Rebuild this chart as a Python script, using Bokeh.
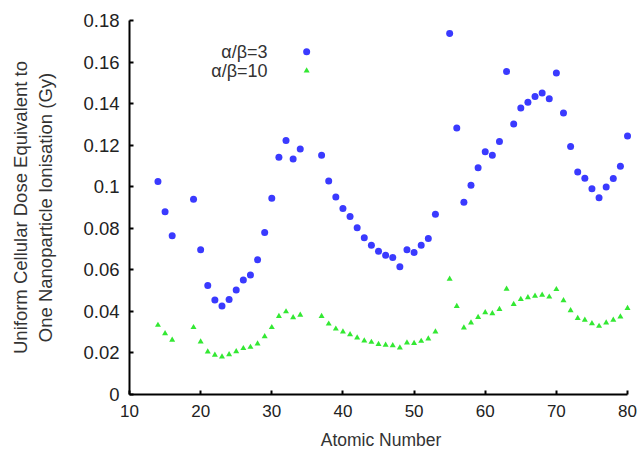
from bokeh.plotting import figure
from bokeh.models import Range1d, FixedTicker, CustomJSTickFormatter, Label
from bokeh.embed import file_html
from bokeh.resources import INLINE

# Atomic numbers
z_vals = [14, 15, 16, 19, 20, 21, 22, 23, 24, 25, 26, 27, 28, 29, 30, 31, 32, 33, 34,
          37, 38, 39, 40, 41, 42, 43, 44, 45, 46, 47, 48, 49, 50, 51, 52, 53,
          55, 56, 57, 58, 59, 60, 61, 62, 63, 64, 65, 66, 67, 68, 69, 70,
          71, 72, 73, 74, 75, 76, 77, 78, 79, 80]

# alpha/beta = 3
dose_ab3 = [0.1025, 0.0880, 0.0764, 0.0940, 0.0697, 0.0524, 0.0455, 0.0426, 0.0457, 0.0503,
            0.0551, 0.0575, 0.0649, 0.0780, 0.0945, 0.1142, 0.1223, 0.1134, 0.1182,
            0.1151, 0.1028, 0.0950, 0.0895, 0.0857, 0.0803, 0.0755, 0.0718, 0.0689, 0.0670,
            0.0659, 0.0615, 0.0697, 0.0684, 0.0718, 0.0751, 0.0868,
            0.1737, 0.1283, 0.0925, 0.1007, 0.1091, 0.1168, 0.1151, 0.1218, 0.1555, 0.1302,
            0.1379, 0.1406, 0.1434, 0.1451, 0.1423, 0.1547,
            0.1355, 0.1193, 0.1071, 0.1041, 0.0990, 0.0947, 0.0999, 0.1039, 0.1098, 0.1244]

# alpha/beta = 10
dose_ab10 = [0.0334, 0.0294, 0.0262, 0.0323, 0.0254, 0.0206, 0.0190, 0.0182, 0.0193, 0.0207,
             0.0222, 0.0228, 0.0244, 0.0279, 0.0323, 0.0377, 0.0399, 0.0371, 0.0383,
             0.0377, 0.0340, 0.0316, 0.0302, 0.0289, 0.0273, 0.0259, 0.0252, 0.0242, 0.0238,
             0.0236, 0.0225, 0.0249, 0.0247, 0.0257, 0.0268, 0.0302,
             0.0556, 0.0425, 0.0321, 0.0345, 0.0372, 0.0395, 0.0390, 0.0410, 0.0508, 0.0434,
             0.0458, 0.0467, 0.0474, 0.0479, 0.0470, 0.0506,
             0.0452, 0.0404, 0.0367, 0.0359, 0.0342, 0.0329, 0.0345, 0.0359, 0.0374, 0.0415]

y_ticks = [0, 0.02, 0.04, 0.06, 0.08, 0.1, 0.12, 0.14, 0.16, 0.18]
x_ticks = [10, 20, 30, 40, 50, 60, 70, 80]
legend_labels = ["\u03b1/\u03b2=3", "\u03b1/\u03b2=10"]

BLUE = "#3a3aff"
GREEN = "#33e833"
FONT = "Liberation Sans"

# x range padded a little past 80 so the last markers are not clipped;
# the axis line itself stops at 80 (bounds)
p = figure(width=640, height=452, output_backend="svg", toolbar_location=None,
           x_range=Range1d(10, 80.7), y_range=Range1d(0, 0.18),
           min_border_left=129, min_border_right=8, min_border_top=20, min_border_bottom=58)
p.outline_line_color = None
p.grid.visible = False
p.background_fill_color = "white"
p.border_fill_color = "white"

p.scatter(z_vals, dose_ab3, marker="circle", size=7, fill_color=BLUE, line_color=None)
p.scatter(z_vals, dose_ab10, marker="triangle", size=6, fill_color=GREEN, line_color=None)

# legend (text left of the key, as in the original)
LEG_TX, LEG_MX = 29.4, 34.9
LEG_Y = [0.165, 0.1558]
for lab, yy, col, mk in zip(legend_labels, LEG_Y, [BLUE, GREEN], ["circle", "triangle"]):
    p.add_layout(Label(x=LEG_TX, y=yy, text=lab, text_align="right", text_baseline="middle",
                       text_font=FONT, text_font_size="18px", text_color="#333333"))
    p.scatter([LEG_MX], [yy], marker=mk, size=7 if mk == "circle" else 6,
              fill_color=col, line_color=None)

for ax in (p.xaxis[0], p.yaxis[0]):
    ax.axis_line_width = 2
    ax.axis_line_color = "black"
    ax.major_tick_line_width = 2
    ax.major_tick_line_color = "black"
    ax.major_tick_in = 4
    ax.major_tick_out = 0
    ax.minor_tick_line_color = None
    ax.major_label_text_font = FONT
    ax.major_label_text_color = "#222222"
    ax.axis_label_text_font = FONT
    ax.axis_label_text_font_style = "normal"
    ax.axis_label_text_color = "#333333"

p.xaxis.bounds = (10, 80)
p.yaxis.bounds = (0, 0.18)
p.xaxis.ticker = FixedTicker(ticks=x_ticks)
p.yaxis.ticker = FixedTicker(ticks=y_ticks)
p.yaxis.formatter = CustomJSTickFormatter(
    code="var s = tick.toFixed(2); s = s.replace(/0+$/, ''); s = s.replace(/\\.$/, ''); return s;")
p.xaxis.major_label_text_font_size = "17px"
p.yaxis.major_label_text_font_size = "18.5px"
p.xaxis.major_label_standoff = 10
p.yaxis.major_label_standoff = 10
p.xaxis.axis_label = "Atomic Number"
p.xaxis.axis_label_text_font_size = "17.5px"
p.xaxis.axis_label_standoff = 10
p.yaxis.axis_label = "Uniform Cellular Dose Equivalent to\nOne Nanoparticle Ionisation (Gy)"
p.yaxis.axis_label_text_font_size = "18.5px"
p.yaxis.axis_label_standoff = 24

html = file_html(p, INLINE)
html = html.replace("<head>", "<head><style>html,body{margin:0;padding:0;overflow:hidden;}</style>", 1)
open("out.html", "w").write(html)
